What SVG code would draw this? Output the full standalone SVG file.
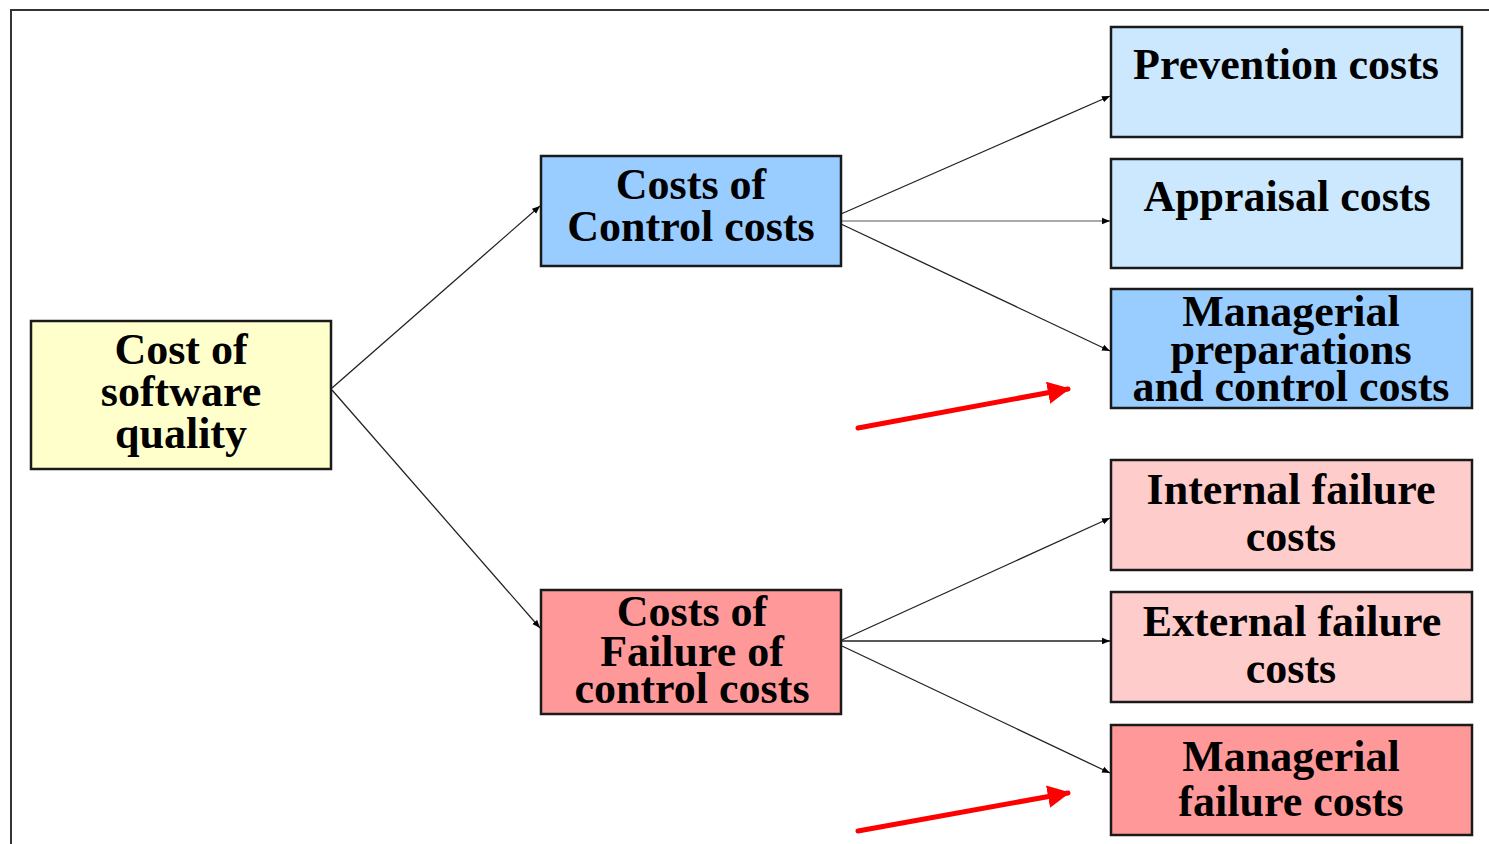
<svg xmlns="http://www.w3.org/2000/svg" width="1489" height="844" viewBox="0 0 1489 844">
<style>
.box{stroke:#1a1a1a;stroke-width:2.5}
.t{font-family:"Liberation Serif","Times New Roman",serif;font-weight:bold;font-size:44px;fill:#000;text-anchor:middle}
.c{stroke:#222;stroke-width:1.3;fill:none}
.red{stroke:#ff0000;stroke-width:5;fill:none;stroke-linecap:round}
</style>
<defs>
<marker id="ah" viewBox="0 0 10 10" refX="10" refY="5" markerWidth="8" markerHeight="8" markerUnits="userSpaceOnUse" orient="auto">
<path d="M0,1 L10,5 L0,9 z" fill="#000"/>
</marker>
<marker id="rh" viewBox="0 0 10 10" refX="9" refY="5" markerWidth="4.5" markerHeight="4.5" orient="auto">
<path d="M0,0 L10,5 L0,10 z" fill="#ff0000"/>
</marker>
</defs>
<rect width="1489" height="844" fill="#fff"/>
<path d="M11,844 L11,10 L1489,10" fill="none" stroke="#333" stroke-width="2"/>
<g id="connectors">
<line class="c" x1="332" y1="388" x2="540" y2="206" marker-end="url(#ah)"/>
<line class="c" x1="332" y1="390" x2="540" y2="628" marker-end="url(#ah)"/>
<line class="c" x1="841" y1="214" x2="1110" y2="96" marker-end="url(#ah)"/>
<line x1="841" y1="221" x2="1110" y2="221" stroke="#aaa" stroke-width="2.2" marker-end="url(#ah)"/>
<line class="c" x1="841" y1="224" x2="1110" y2="351" marker-end="url(#ah)"/>
<line class="c" x1="842" y1="640" x2="1110" y2="518" marker-end="url(#ah)"/>
<line class="c" x1="842" y1="641" x2="1110" y2="641" marker-end="url(#ah)"/>
<line class="c" x1="842" y1="646" x2="1110" y2="773" marker-end="url(#ah)"/>
<line class="red" x1="858" y1="428" x2="1068" y2="389" marker-end="url(#rh)"/>
<line class="red" x1="858" y1="831" x2="1068" y2="793" marker-end="url(#rh)"/>
</g>
<g id="root">
<rect class="box" x="31" y="321" width="300" height="148" fill="#ffffcc"/>
<text class="t" x="181" y="364">Cost of</text>
<text class="t" x="181" y="406">software</text>
<text class="t" x="181" y="448">quality</text>
</g>
<g id="control">
<rect class="box" x="541" y="156" width="300" height="110" fill="#99ccff"/>
<text class="t" x="691" y="199">Costs of</text>
<text class="t" x="691" y="241">Control costs</text>
</g>
<g id="failure">
<rect class="box" x="541" y="590" width="300" height="124" fill="#ff9999"/>
<text class="t" x="692" y="626">Costs of</text>
<text class="t" x="692" y="666">Failure of</text>
<text class="t" x="692" y="703">control costs</text>
</g>
<g id="prevention">
<rect class="box" x="1111" y="27" width="351" height="110" fill="#cce8ff"/>
<text class="t" x="1286" y="79">Prevention costs</text>
</g>
<g id="appraisal">
<rect class="box" x="1111" y="159" width="351" height="109" fill="#cce8ff"/>
<text class="t" x="1287" y="211">Appraisal costs</text>
</g>
<g id="managerial-prep">
<rect class="box" x="1111" y="289" width="361" height="119" fill="#99ccff"/>
<text class="t" x="1291" y="326">Managerial</text>
<text class="t" x="1291" y="364">preparations</text>
<text class="t" x="1291" y="401">and control costs</text>
</g>
<g id="internal">
<rect class="box" x="1111" y="460" width="361" height="110" fill="#ffcccc"/>
<text class="t" x="1291" y="504">Internal failure</text>
<text class="t" x="1291" y="551">costs</text>
</g>
<g id="external">
<rect class="box" x="1111" y="592" width="361" height="110" fill="#ffcccc"/>
<text class="t" x="1292" y="636">External failure</text>
<text class="t" x="1291" y="683">costs</text>
</g>
<g id="managerial-failure">
<rect class="box" x="1111" y="725" width="361" height="110" fill="#ff9999"/>
<text class="t" x="1291" y="771">Managerial</text>
<text class="t" x="1291" y="816">failure costs</text>
</g>
</svg>
